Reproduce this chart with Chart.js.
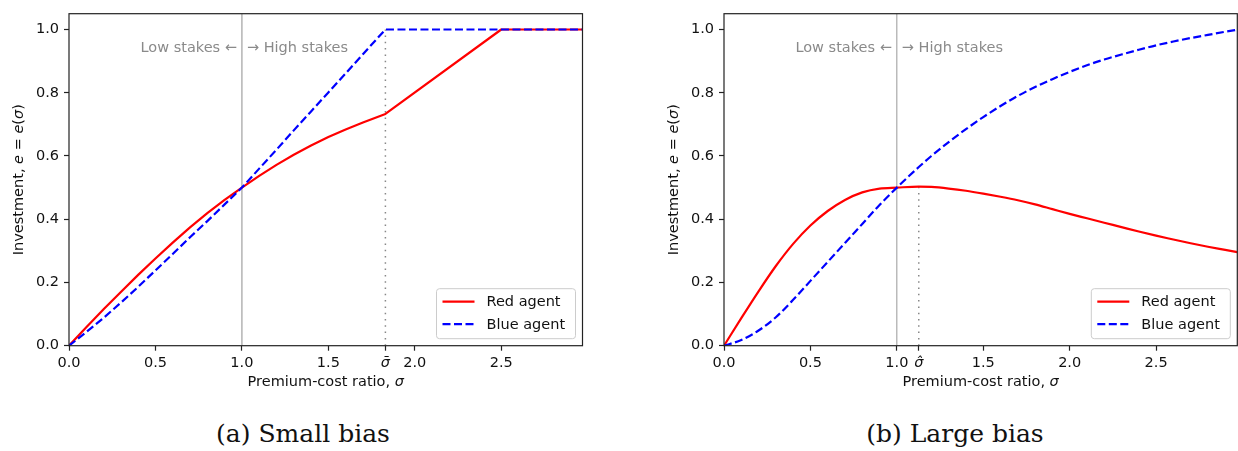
<!DOCTYPE html>
<html>
<head>
<meta charset="utf-8">
<script src="https://cdn.jsdelivr.net/npm/chart.js@4.4.0/dist/chart.umd.min.js"></script>
<style>
    body { margin: 0; background: #fff; }
    #page { position: relative; width: 1238px; height: 451px; overflow: hidden; background: #fff; }
    canvas { position: absolute; top: 0; }
    .caption { position: absolute; top: 419px; width: 300px; height: 30px; line-height: 30px;
               text-align: center; font-family: "DejaVu Serif", serif; font-size: 25px; color: #111; }
</style>
</head>
<body>
<div id="page">
    <canvas id="chart-small" width="584" height="400" style="left:0px"></canvas>
    <canvas id="chart-large" width="583" height="400" style="left:655px"></canvas>
    <div class="caption" style="left:153px">(a) Small bias</div>
    <div class="caption" style="left:805px">(b) Large bias</div>
</div>
<script>
// (a) small bias
const sigmaA = [0, 0.1, 0.2, 0.3, 0.4, 0.5, 0.6, 0.7, 0.8, 0.9, 1.0, 1.1, 1.2, 1.3, 1.4, 1.5, 1.6, 1.7, 1.83, 2.5, 2.97]
const redA   = [0, 0.058, 0.115, 0.17, 0.224, 0.276, 0.326, 0.374, 0.419, 0.461, 0.5, 0.537, 0.572, 0.604, 0.633, 0.66, 0.684, 0.706, 0.733, 1.0, 1.0]
const blueA  = [0, 0.043, 0.088, 0.136, 0.186, 0.238, 0.29, 0.343, 0.394, 0.447, 0.5, 0.56, 0.62, 0.681, 0.741, 0.801, 0.861, 0.922, 1.0, 1.0, 1.0]
const xTicksA = [0, 0.5, 1.0, 1.5, 1.83, 2.0, 2.5]
const xLabelsA = ['0.0', '0.5', '1.0', '1.5', 'σ\u0304', '2.0', '2.5']
const markA = { sigma: 1.83, top: 1.0 }

// (b) large bias
const sigmaB = [0, 0.1, 0.2, 0.3, 0.4, 0.5, 0.6, 0.7, 0.8, 0.9, 1.0, 1.127, 1.2, 1.3, 1.4, 1.5, 1.6, 1.7, 1.8, 1.9, 2.0,
                2.1, 2.2, 2.3, 2.4, 2.5, 2.6, 2.7, 2.8, 2.9, 2.97]
const redB   = [0, 0.087, 0.172, 0.252, 0.322, 0.38, 0.426, 0.461, 0.485, 0.497, 0.5, 0.503, 0.502, 0.497, 0.49, 0.481,
                0.471, 0.46, 0.447, 0.432, 0.417, 0.403, 0.389, 0.375, 0.361, 0.348, 0.336, 0.324, 0.313, 0.303, 0.296]
const blueB  = [0, 0.018, 0.048, 0.09, 0.145, 0.205, 0.265, 0.325, 0.385, 0.445, 0.5, 0.565, 0.6, 0.644, 0.685, 0.723,
                0.758, 0.79, 0.818, 0.843, 0.866, 0.887, 0.905, 0.921, 0.936, 0.95, 0.962, 0.973, 0.983, 0.993, 0.999]
const xTicksB = [0, 0.5, 1.0, 1.127, 1.5, 2.0, 2.5]
const xLabelsB = ['0.0', '0.5', '1.0', 'σ\u0302', '1.5', '2.0', '2.5']
const markB = { sigma: 1.127, top: 0.503 }

// shared
const yTicks = [0, 0.2, 0.4, 0.6, 0.8, 1.0]
const xMax = 2.97
const yMax = 1.05
const split = 1.0
const notes = ['Low stakes ←', '→ High stakes']
const notesY = 0.94

const FONT = '"DejaVu Sans", sans-serif'
const INK = '#222'

function pts(xs, ys) {
    return xs.map((x, i) => ({ x: x, y: ys[i] }))
}

function drawParts(ctx, parts, cx, cy) {
    let total = 0
    parts.forEach(p => {
        ctx.font = (p[1] ? 'oblique ' : '') + '14.5px ' + FONT
        total += ctx.measureText(p[0]).width
    })
    let x = cx - total / 2
    ctx.textAlign = 'left'
    ctx.textBaseline = 'middle'
    parts.forEach(p => {
        ctx.font = (p[1] ? 'oblique ' : '') + '14.5px ' + FONT
        ctx.fillText(p[0], x, cy)
        x += ctx.measureText(p[0]).width
    })
}

const extras = {
    id: 'extras',
    afterDatasetsDraw(chart) {
        const { ctx, chartArea: a, scales } = chart
        const x = scales.x, y = scales.y
        ctx.save()
        // spines
        ctx.strokeStyle = INK
        ctx.lineWidth = 1.2
        ctx.strokeRect(a.left, a.top, a.right - a.left, a.bottom - a.top)

        // stakes notes
        ctx.font = '14.5px ' + FONT
        ctx.fillStyle = '#8a8a8a'
        ctx.textBaseline = 'middle'
        const px = x.getPixelForValue(split), py = y.getPixelForValue(notesY)
        ctx.textAlign = 'right'
        ctx.fillText(notes[0], px - 5, py)
        ctx.textAlign = 'left'
        ctx.fillText(notes[1], px + 5, py)

        // legend, lower right
        const items = chart.data.datasets.filter(d => d.inLegend)
        const bw = 139, bh = 50
        const bx = a.right - 7 - bw, by = a.bottom - 7 - bh
        ctx.beginPath()
        ctx.roundRect(bx, by, bw, bh, 3)
        ctx.fillStyle = 'rgba(255,255,255,0.8)'
        ctx.fill()
        ctx.strokeStyle = '#cccccc'
        ctx.lineWidth = 1
        ctx.stroke()
        items.forEach((d, i) => {
            const ly = by + 13 + i * 22.5
            ctx.beginPath()
            ctx.setLineDash(d.borderDash || [])
            ctx.strokeStyle = d.borderColor
            ctx.lineWidth = d.borderWidth
            ctx.moveTo(bx + 6, ly)
            ctx.lineTo(bx + 38, ly)
            ctx.stroke()
            ctx.setLineDash([])
            ctx.fillStyle = '#111'
            ctx.font = '14.5px ' + FONT
            ctx.textAlign = 'left'
            ctx.textBaseline = 'middle'
            ctx.fillText(d.label, bx + 50, ly + 1)
        })

        // axis titles
        ctx.fillStyle = '#111'
        drawParts(ctx, [['Premium-cost ratio, ', false], ['σ', true]], (a.left + a.right) / 2, a.bottom + 37)
        ctx.translate(19, (a.top + a.bottom) / 2)
        ctx.rotate(-Math.PI / 2)
        drawParts(ctx, [['Investment, ', false], ['e', true], [' = ', false], ['e', true], ['(', false], ['σ', true], [')', false]], 0, 0)
        ctx.restore()
    }
}

function makeChart(id, cfg) {
    const ctx = document.getElementById(id).getContext('2d')
    return new Chart(ctx, {
        type: 'line',
        data: {
            datasets: [
                {
                    label: 'Red agent', inLegend: true, order: 2,
                    data: pts(cfg.sigma, cfg.red),
                    borderColor: '#ff0000', borderWidth: 2.2, pointRadius: 0,
                    borderJoinStyle: 'round', cubicInterpolationMode: cfg.smooth ? 'monotone' : 'default', tension: 0
                },
                {
                    label: 'Blue agent', inLegend: true, order: 1,
                    data: pts(cfg.sigma, cfg.blue),
                    borderColor: '#0000ff', borderWidth: 2.2, borderDash: [8, 3.5], pointRadius: 0,
                    borderCapStyle: 'butt', cubicInterpolationMode: cfg.smooth ? 'monotone' : 'default', tension: 0
                },
                {
                    label: 'split', order: 5,
                    data: [{ x: split, y: 0 }, { x: split, y: yMax }],
                    borderColor: cfg.splitColor, borderWidth: cfg.splitWidth, pointRadius: 0
                },
                {
                    label: 'mark', order: 6,
                    data: [{ x: cfg.mark.sigma, y: 0 }, { x: cfg.mark.sigma, y: cfg.mark.top }],
                    borderColor: '#888888', borderWidth: 1.5, borderDash: [1.5, 4.8], pointRadius: 0
                }
            ]
        },
        options: {
            responsive: false,
            animation: false,
            layout: { padding: { top: 12, right: cfg.padRight, left: 0, bottom: 0 } },
            plugins: { legend: { display: false }, tooltip: { enabled: false } },
            scales: {
                x: {
                    type: 'linear', min: 0, max: xMax,
                    afterFit: s => { s.height = 54.3 },
                    afterBuildTicks: s => { s.ticks = cfg.xTicks.map(v => ({ value: v })) },
                    grid: { display: true, drawOnChartArea: false, drawTicks: true, tickLength: 5, color: INK, tickWidth: 1.2 },
                    border: { display: false },
                    ticks: {
                        autoSkip: false, maxRotation: 0, padding: 4, color: '#111',
                        font: c => ({ family: FONT, size: 14.5, style: (c.tick && cfg.xTicks.indexOf(c.tick.value) === cfg.markIndex) ? 'italic' : 'normal' }),
                        callback: (v) => {
                            const i = cfg.xTicks.indexOf(v)
                            return i >= 0 ? cfg.xLabels[i] : ''
                        }
                    }
                },
                y: {
                    type: 'linear', min: 0, max: yMax,
                    afterFit: s => { s.width = 69 },
                    afterBuildTicks: s => { s.ticks = yTicks.map(v => ({ value: v })) },
                    grid: { display: true, drawOnChartArea: false, drawTicks: true, tickLength: 5, color: INK, tickWidth: 1.2 },
                    border: { display: false },
                    ticks: {
                        padding: 5, color: '#111',
                        font: { family: FONT, size: 14.5 },
                        callback: v => v.toFixed(1)
                    }
                }
            }
        },
        plugins: [extras]
    })
}

makeChart('chart-small', {
    sigma: sigmaA, red: redA, blue: blueA, xTicks: xTicksA, xLabels: xLabelsA, markIndex: 4,
    mark: markA, smooth: false, splitColor: 'rgba(128,128,128,0.6)', splitWidth: 1.5, padRight: 1.5
})
makeChart('chart-large', {
    sigma: sigmaB, red: redB, blue: blueB, xTicks: xTicksB, xLabels: xLabelsB, markIndex: 3,
    mark: markB, smooth: true, splitColor: '#999999', splitWidth: 1, padRight: 0.7
})
</script>
</body>
</html>
